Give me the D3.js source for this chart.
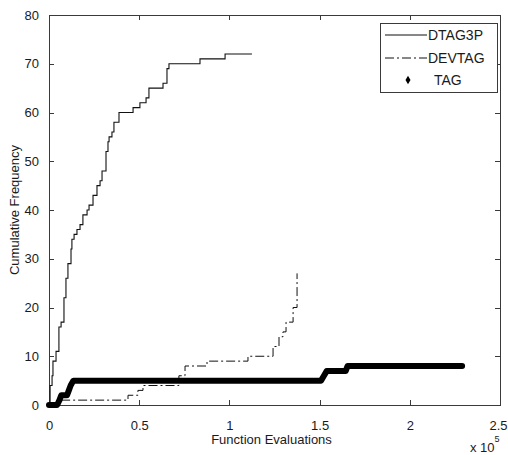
<!DOCTYPE html>
<html>
<head>
<meta charset="utf-8">
<script src="https://cdn.jsdelivr.net/npm/d3@7"></script>
<style>
html,body{margin:0;padding:0;background:#fff;}
svg{display:block;}
text{font-family:"Liberation Sans",Arial,sans-serif;fill:#1a1a1a;}
</style>
</head>
<body>
<svg id="chart" width="508" height="455"></svg>
<script>
// ---- data (x in units of 1e5 function evaluations) ----
const xTicks = [0, 0.5, 1, 1.5, 2, 2.5];
const yTicks = [0, 10, 20, 30, 40, 50, 60, 70, 80];
const seriesNames = ["DTAG3P", "DEVTAG", "TAG"];

const dtag3pX = [0, 0.006, 0.017, 0.022, 0.039, 0.055, 0.067, 0.083, 0.094, 0.105, 0.122, 0.127, 0.139, 0.155, 0.172, 0.188, 0.211, 0.222, 0.244, 0.266, 0.283, 0.294, 0.316, 0.327, 0.333, 0.349, 0.360, 0.388, 0.466, 0.504, 0.538, 0.554, 0.632, 0.654, 0.665, 0.837, 0.976, 1.125];
const dtag3pY = [0, 4, 6, 9, 11, 16, 17, 22, 26, 29, 32, 34, 35, 36, 37, 39, 40, 41, 43, 45, 46, 48, 52, 54, 55, 56, 58, 60, 61, 62, 63, 65, 66, 69, 70, 71, 72, 72];

const devtagX = [0, 0.05, 0.438, 0.493, 0.521, 0.72, 0.754, 0.876, 1.103, 1.242, 1.275, 1.297, 1.314, 1.353, 1.375];
const devtagY = [0, 1, 2, 3, 4, 6, 8, 9, 10, 12, 14, 15, 17, 20, 27];

const tagX = [0, 0.045, 0.058, 0.068, 0.1, 0.11, 0.12, 0.135, 1.508, 1.524, 1.54, 1.645, 1.655, 2.29];
const tagY = [0, 0, 1, 2, 2, 3, 4, 5, 5, 6, 7, 7, 8, 8];

// ---- layout ----
const svg = d3.select("#chart");
const L = 49, R = 500, T = 15, B = 405;
const x = d3.scaleLinear().domain([0, 2.5]).range([L, R]);
const y = d3.scaleLinear().domain([0, 80]).range([B, T]);
const axisColor = "#3a3a3a";
const fs = 13;

const zip = (xs, ys) => xs.map((v, i) => [v, ys[i]]);

// frame
svg.append("rect").attr("x", L).attr("y", T).attr("width", R - L).attr("height", B - T)
  .attr("fill", "none").attr("stroke", axisColor).attr("stroke-width", 1).attr("shape-rendering", "crispEdges");

// axes with inward ticks
const tickLen = 5;
const fmtX = d => (d === 0 ? "0" : String(d));
svg.append("g").attr("transform", `translate(0,${B})`)
  .call(d3.axisBottom(x).tickValues(xTicks).tickSize(-tickLen).tickPadding(11 + tickLen).tickFormat(fmtX))
  .call(g => { g.select(".domain").remove(); g.selectAll("line").attr("stroke", axisColor).attr("shape-rendering","crispEdges");
    g.selectAll("text").attr("font-size", fs).attr("font-family", "Liberation Sans, Arial, sans-serif").attr("fill", "#1a1a1a")
      .attr("dx", d => (d === 2.5 ? -2 : 0)); });
svg.append("g").attr("transform", `translate(0,${T})`)
  .call(d3.axisTop(x).tickValues(xTicks).tickSize(-tickLen).tickFormat(""))
  .call(g => { g.select(".domain").remove(); g.selectAll("line").attr("stroke", axisColor).attr("shape-rendering","crispEdges"); });
svg.append("g").attr("transform", `translate(${L},0)`)
  .call(d3.axisLeft(y).tickValues(yTicks).tickSize(-tickLen).tickPadding(5 + tickLen))
  .call(g => { g.select(".domain").remove(); g.selectAll("line").attr("stroke", axisColor).attr("shape-rendering","crispEdges");
    g.selectAll("text").attr("font-size", fs).attr("font-family", "Liberation Sans, Arial, sans-serif").attr("fill", "#1a1a1a"); });
svg.append("g").attr("transform", `translate(${R},0)`)
  .call(d3.axisRight(y).tickValues(yTicks).tickSize(-tickLen).tickFormat(""))
  .call(g => { g.select(".domain").remove(); g.selectAll("line").attr("stroke", axisColor).attr("shape-rendering","crispEdges"); });

// axis labels
svg.append("text").attr("x", (L + R) / 2 - 3).attr("y", 444).attr("text-anchor", "middle")
  .attr("font-size", fs).text("Function Evaluations");
svg.append("text").attr("transform", `translate(19,${(T + B) / 2}) rotate(-90)`).attr("text-anchor", "middle")
  .attr("font-size", fs).text("Cumulative Frequency");
const ex = svg.append("text").attr("x", 470).attr("y", 452).attr("font-size", fs);
ex.append("tspan").text("x 10");
ex.append("tspan").attr("dy", -10).attr("font-size", 9).text("5");

// series
const stepLine = d3.line().x(d => x(d[0])).y(d => y(d[1])).curve(d3.curveStepAfter);
const linLine = d3.line().x(d => x(d[0])).y(d => y(d[1]));

svg.append("path").attr("d", stepLine(zip(dtag3pX, dtag3pY)))
  .attr("fill", "none").attr("stroke", "#111").attr("stroke-width", 1.1);
svg.append("path").attr("d", stepLine(zip(devtagX, devtagY)))
  .attr("fill", "none").attr("stroke", "#111").attr("stroke-width", 1)
  .attr("stroke-dasharray", "9,3,2,3");
svg.append("path").attr("d", linLine(zip(tagX, tagY)))
  .attr("fill", "none").attr("stroke", "#000").attr("stroke-width", 6)
  .attr("stroke-linecap", "round").attr("stroke-linejoin", "round");

// legend
const lg = svg.append("g");
lg.append("rect").attr("x", 380).attr("y", 23).attr("width", 117).attr("height", 69)
  .attr("fill", "#fff").attr("stroke", axisColor).attr("stroke-width", 1).attr("shape-rendering", "crispEdges");
const rowsY = [35, 58, 80];
lg.append("line").attr("x1", 385).attr("x2", 427).attr("y1", rowsY[0]).attr("y2", rowsY[0])
  .attr("stroke", "#111").attr("stroke-width", 1.1);
lg.append("line").attr("x1", 385).attr("x2", 427).attr("y1", rowsY[1]).attr("y2", rowsY[1])
  .attr("stroke", "#111").attr("stroke-width", 1).attr("stroke-dasharray", "9,3,2,3");
lg.append("path").attr("d", d3.symbol().type(d3.symbolDiamond).size(22)())
  .attr("transform", `translate(408,${rowsY[2]})`).attr("fill", "#000");
const textX = [428, 428, 434];
seriesNames.forEach((n, i) => {
  lg.append("text").attr("x", textX[i]).attr("y", rowsY[i]).attr("dy", "0.36em")
    .attr("font-size", 14).text(n);
});
</script>
</body>
</html>
